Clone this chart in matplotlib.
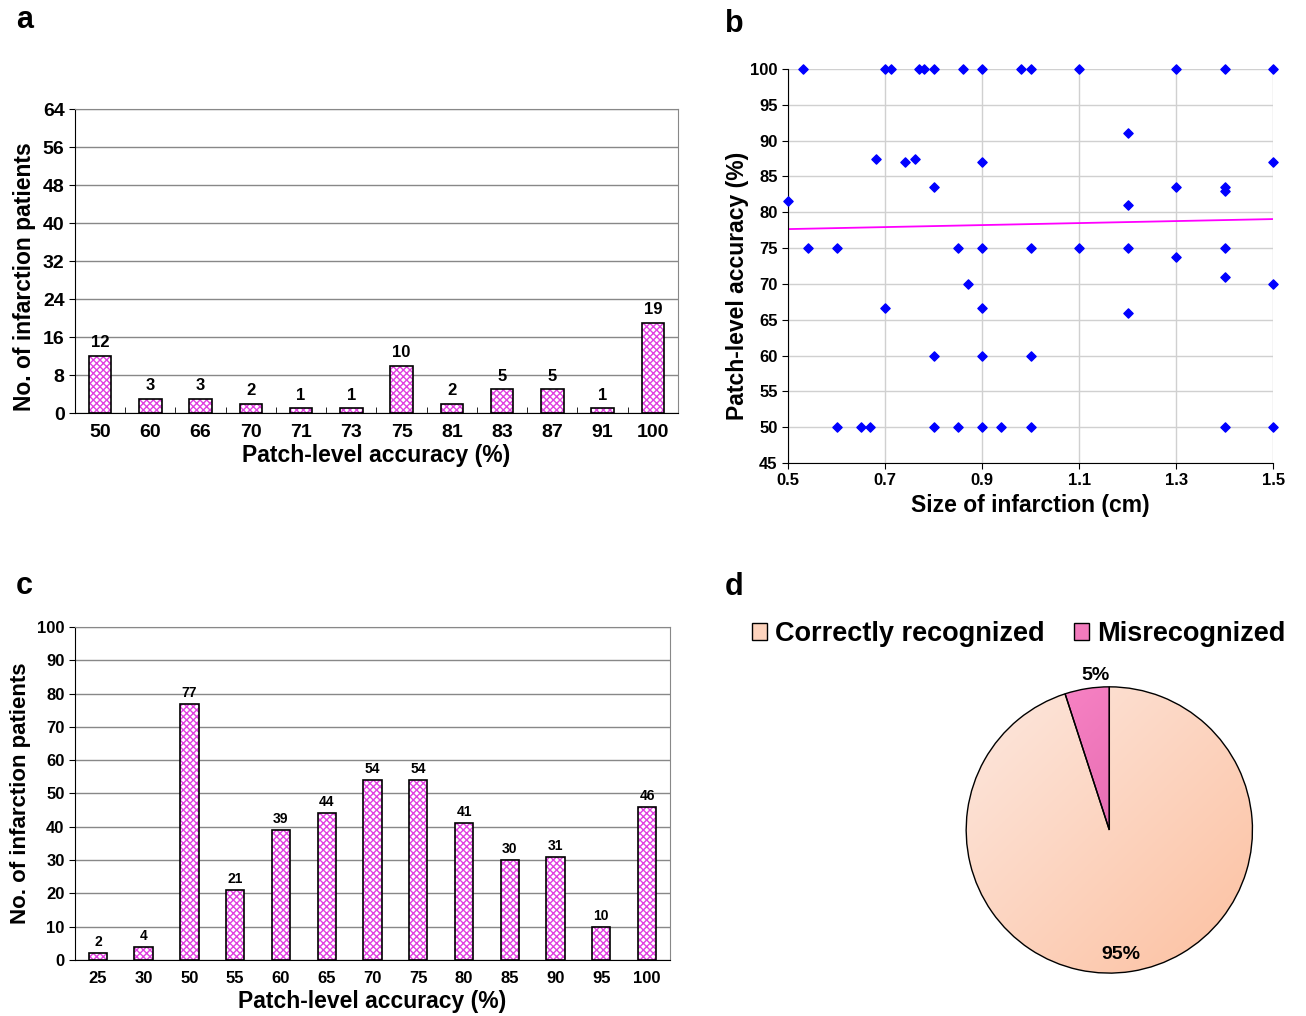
import matplotlib.pyplot as plt
import numpy as np
from matplotlib.patches import Patch
from matplotlib.colors import LinearSegmentedColormap

plt.rcParams['font.family'] = ['Liberation Sans', 'DejaVu Sans']
plt.rcParams['font.weight'] = 'bold'

# panel a
a_cats = ['50', '60', '66', '70', '71', '73', '75', '81', '83', '87', '91', '100']
a_counts = [12, 3, 3, 2, 1, 1, 10, 2, 5, 5, 1, 19]

# panel b
b_size = [0.53, 0.70, 0.712, 0.769, 0.781, 0.80, 0.861, 0.90, 0.98, 1.0, 1.1, 1.3, 1.4, 1.5,
          1.2, 0.681, 0.761, 0.741, 0.90, 1.5, 0.80, 1.3, 1.4, 1.4, 0.5, 1.2,
          0.542, 0.601, 0.85, 0.90, 1.0, 1.1, 1.2, 1.4, 1.3,
          0.871, 1.4, 1.5, 0.70, 0.90, 1.2, 0.80, 0.90, 1.0,
          0.601, 0.65, 0.67, 0.80, 0.85, 0.90, 0.94, 1.0, 1.4, 1.5]
b_acc = [100] * 14 + [91, 87.5, 87.5, 87, 87, 87, 83.5, 83.5, 83.5, 83, 81.6, 81,
          75, 75, 75, 75, 75, 75, 75, 75, 73.8,
          70, 71, 70, 66.7, 66.7, 66, 60, 60, 60,
          50, 50, 50, 50, 50, 50, 50, 50, 50, 50]
b_trend = (76.95, 1.4)  # intercept, slope of the trend line

# panel c
c_cats = ['25', '30', '50', '55', '60', '65', '70', '75', '80', '85', '90', '95', '100']
c_counts = [2, 4, 77, 21, 39, 44, 54, 54, 41, 30, 31, 10, 46]

# panel d
d_labels = ['Correctly recognized', 'Misrecognized']
d_share = [95, 5]

fig = plt.figure(figsize=(13.06, 10.16), dpi=100)


def hatched_bars(ax, x, h, width):
    ax.bar(x, h, width, color='white', edgecolor='#e040e0', hatch='xxxxx', linewidth=0, zorder=2)
    ax.bar(x, h, width, fill=False, edgecolor='black', linewidth=1.2, zorder=3)


def bar_frame(ax):
    ax.yaxis.grid(True, color='#888888', linewidth=1)
    ax.set_axisbelow(True)
    for s in ax.spines.values():
        s.set_color('#888888')
    ax.spines['left'].set_color('black')
    ax.spines['bottom'].set_color('black')


# ---- a ----
ax = fig.add_axes([0.0574, 0.5935, 0.4617, 0.2992])
x = np.arange(len(a_cats))
hatched_bars(ax, x, a_counts, 0.45)
for xi, v in zip(x, a_counts):
    ax.text(xi, v + 1.2, str(v), ha='center', va='bottom', fontsize=12, fontweight='bold')
ax.set_xlim(-0.5, len(a_cats) - 0.5)
ax.set_ylim(0, 64)
ax.set_yticks(np.arange(0, 65, 8))
ax.set_xticks(x)
ax.set_xticklabels(a_cats)
ax.set_xticks(np.arange(-0.5, len(a_cats), 1), minor=True)
ax.tick_params(axis='x', which='major', length=0, labelsize=14, pad=8)
ax.tick_params(axis='x', which='minor', length=4, direction='in')
ax.tick_params(axis='y', labelsize=14, length=4)
bar_frame(ax)
ax.set_xlabel('Patch-level accuracy (%)', fontsize=16.5, fontweight='bold', labelpad=2)
ax.set_ylabel('No. of infarction patients', fontsize=16.5, fontweight='bold')
ax.yaxis.set_label_coords(-0.064, 0.45)
fig.text(0.012, 0.98, 'a', fontsize=22, fontweight='bold', va='center')

# ---- b ----
ax = fig.add_axes([0.6034, 0.5443, 0.3714, 0.3878])
ax.scatter(b_size, b_acc, marker='D', s=22, color='#0000ff', zorder=3, clip_on=False)
xx = np.array([0.5, 1.5])
ax.plot(xx, b_trend[0] + b_trend[1] * xx, color='#ff00ff', linewidth=1.3, zorder=2)
ax.set_xlim(0.5, 1.5)
ax.set_ylim(45, 100)
ax.set_xticks([0.5, 0.7, 0.9, 1.1, 1.3, 1.5])
ax.set_yticks(np.arange(45, 101, 5))
ax.grid(True, color='#d0d0d0', linewidth=1)
ax.set_axisbelow(True)
ax.spines['top'].set_visible(False)
ax.spines['right'].set_visible(False)
ax.tick_params(labelsize=12, length=4)
ax.set_xlabel('Size of infarction (cm)', fontsize=16.5, fontweight='bold', labelpad=4)
ax.set_ylabel('Patch-level accuracy (%)', fontsize=16.5, fontweight='bold')
ax.yaxis.set_label_coords(-0.08, 0.45)
fig.text(0.555, 0.976, 'b', fontsize=22, fontweight='bold', va='center')

# ---- c ----
ax = fig.add_axes([0.0574, 0.0551, 0.4556, 0.3278])
x = np.arange(len(c_cats))
hatched_bars(ax, x, c_counts, 0.4)
for xi, v in zip(x, c_counts):
    ax.text(xi, v + 1.2, str(v), ha='center', va='bottom', fontsize=10, fontweight='bold')
ax.set_xlim(-0.5, len(c_cats) - 0.5)
ax.set_ylim(0, 100)
ax.set_yticks(np.arange(0, 101, 10))
ax.set_xticks(x)
ax.set_xticklabels(c_cats)
ax.tick_params(axis='x', length=0, labelsize=12, pad=8)
ax.tick_params(axis='y', labelsize=12, length=4)
bar_frame(ax)
ax.set_xlabel('Patch-level accuracy (%)', fontsize=16.5, fontweight='bold', labelpad=3)
ax.set_ylabel('No. of infarction patients', fontsize=16, fontweight='bold', labelpad=4)
fig.text(0.012, 0.423, 'c', fontsize=22, fontweight='bold', va='center')

# ---- d ----
ax = fig.add_axes([0.7376, 0.0394, 0.2236, 0.2874])
colors = ['#fdd3bd', '#f27bbd']
wedges, _ = ax.pie(d_share[::-1], colors=colors[::-1], startangle=90, counterclock=True,
                   wedgeprops=dict(edgecolor='black', linewidth=1))
ax.set_aspect('equal')
# soft gradients like the original: light at top-left, darker at bottom-right
grads = [LinearSegmentedColormap.from_list('c', ['#fde8df', '#fcc0a0']),
         LinearSegmentedColormap.from_list('m', ['#ff8ccc', '#d0509a'])]
gx, gy = np.meshgrid(np.linspace(0, 1, 200), np.linspace(0, 1, 200))
g = (gx + gy) / 2
for w, cm in zip(wedges, grads[::-1]):
    im = ax.imshow(g, cmap=cm, extent=[-1, 1, -1, 1], origin='upper', zorder=1)
    im.set_clip_path(w)
    w.set_facecolor('none')
    w.set_zorder(2)
ax.set_xlim(-1.02, 1.02)
ax.set_ylim(-1.02, 1.02)
ax.text(0.08, -0.87, '95%', ha='center', va='center', fontsize=14, fontweight='bold', zorder=3)
ax.text(-0.1, 1.08, '5%', ha='center', va='center', fontsize=14, fontweight='bold')
handles = [Patch(facecolor=c, edgecolor='black') for c in colors]
fig.legend(handles, d_labels, loc='center left', bbox_to_anchor=(0.557, 0.376), ncol=2,
           frameon=False, handlelength=0.55, handleheight=0.55, handletextpad=0.3,
           columnspacing=1.1, prop={'weight': 'bold', 'size': 19.5})
fig.text(0.555, 0.422, 'd', fontsize=22, fontweight='bold', va='center')

fig.savefig('out.png', dpi=100, facecolor='white')
